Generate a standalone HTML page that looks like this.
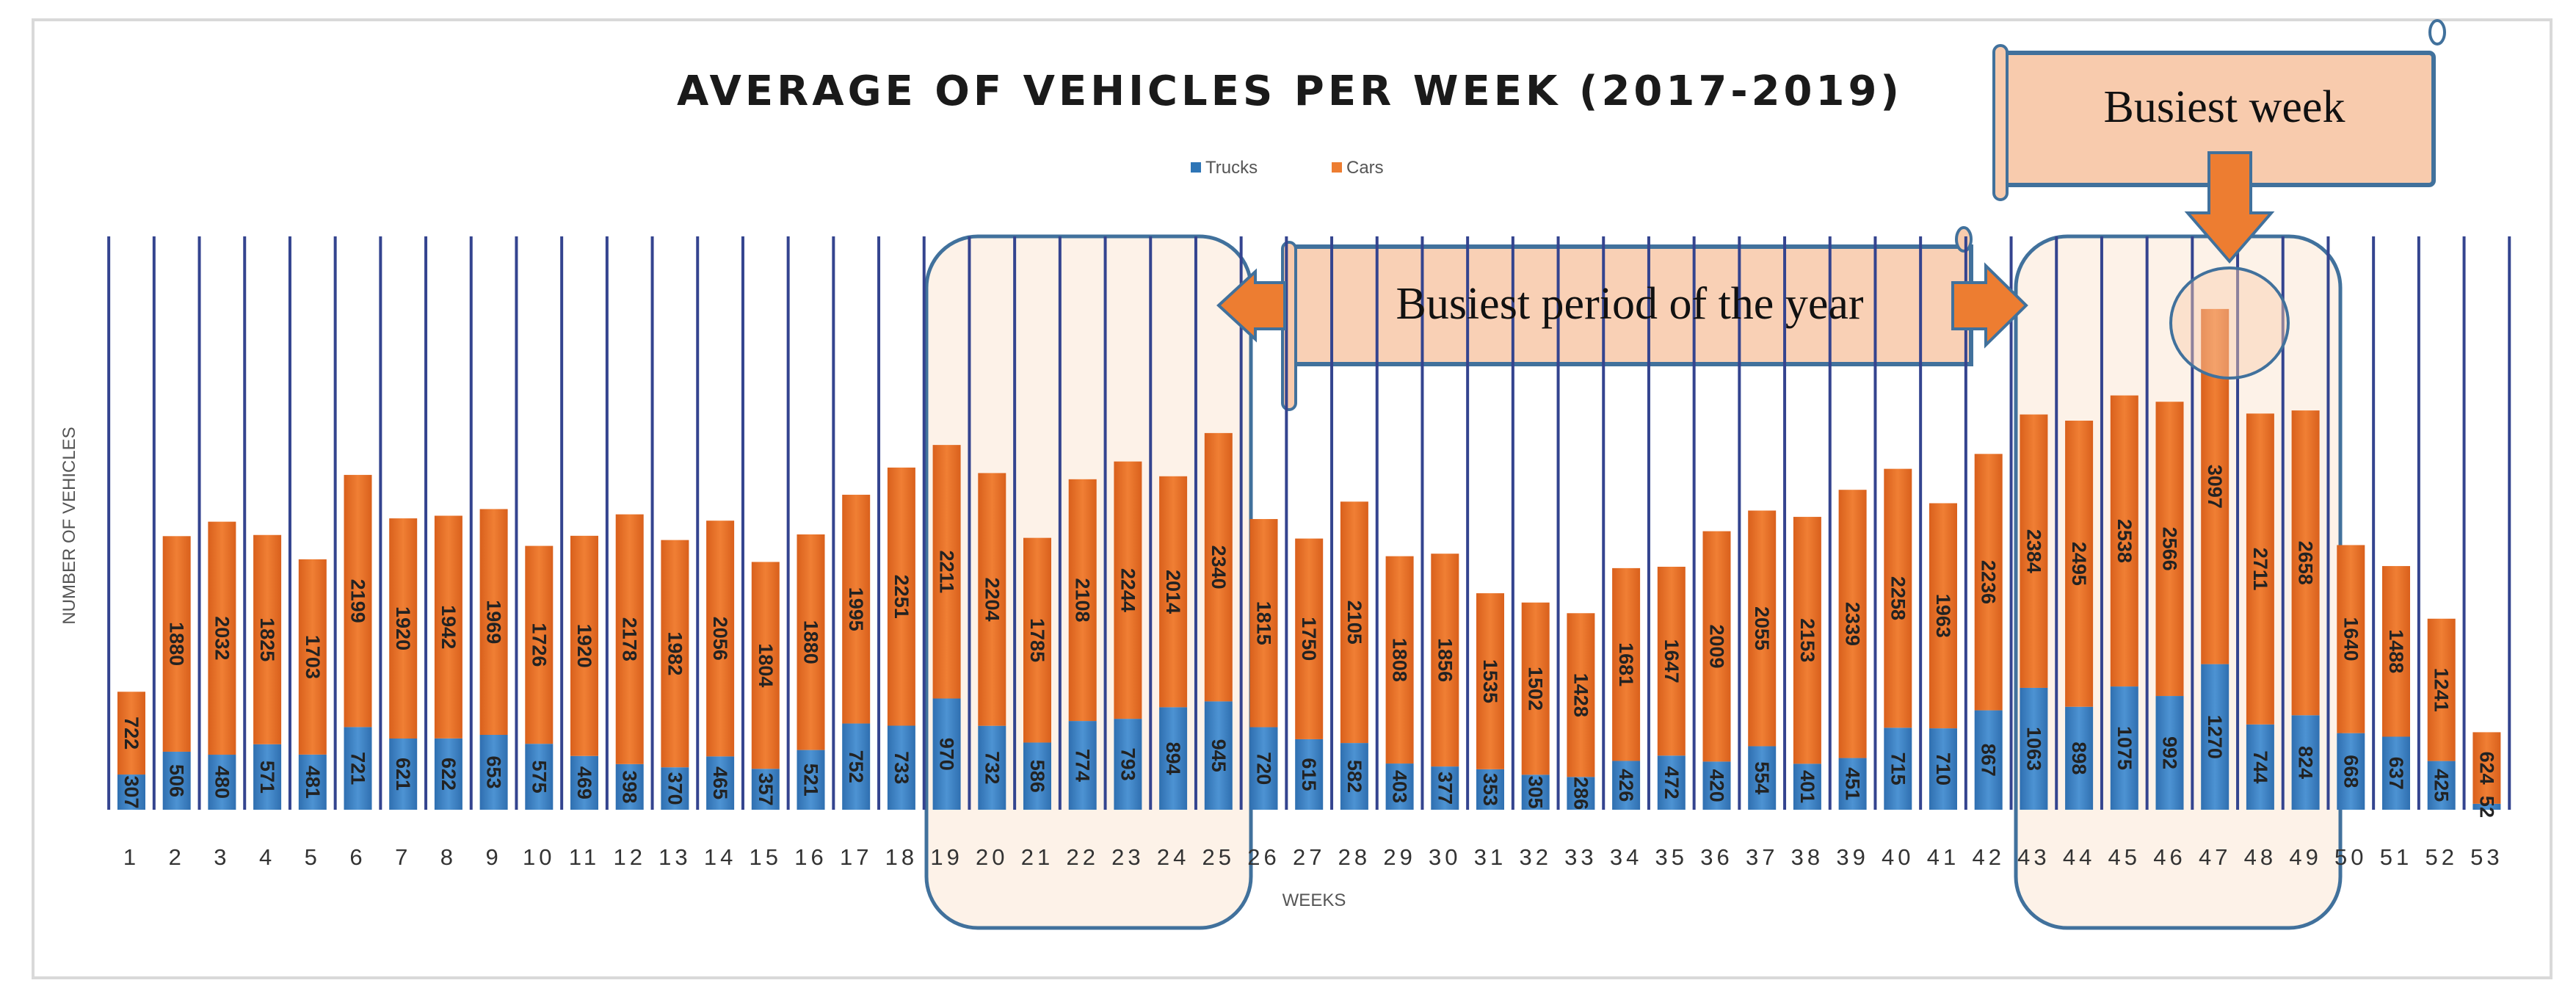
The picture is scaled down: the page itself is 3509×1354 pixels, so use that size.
<!DOCTYPE html>
<html><head><meta charset="utf-8"><style>html,body{margin:0;padding:0;background:#fff}svg{display:block}</style></head>
<body>
<svg id="chart" xmlns="http://www.w3.org/2000/svg" width="3509" height="1354" viewBox="0 0 3509 1354" font-family="Liberation Sans, sans-serif">
<defs>
<linearGradient id="gOr" x1="0" x2="1"><stop offset="0" stop-color="#d9601c"/><stop offset="0.5" stop-color="#f07f34"/><stop offset="1" stop-color="#d9601c"/></linearGradient>
<linearGradient id="gBl" x1="0" x2="1"><stop offset="0" stop-color="#2f6fb0"/><stop offset="0.5" stop-color="#4d93d3"/><stop offset="1" stop-color="#2f6fb0"/></linearGradient>
</defs>
<rect x="45" y="27" width="3430" height="1305" fill="#fff" stroke="#d9d9d9" stroke-width="4"/>
<text x="1757" y="143" text-anchor="middle" font-family="DejaVu Sans, sans-serif" font-size="56" font-weight="bold" letter-spacing="5" fill="#1a1a1a">AVERAGE OF VEHICLES PER WEEK (2017-2019)</text>
<g font-size="24" fill="#555">
<rect x="1622" y="221" width="14" height="14" fill="#2e75b6"/>
<text x="1642" y="236">Trucks</text>
<rect x="1814" y="221" width="14" height="14" fill="#ed7d31"/>
<text x="1834" y="236">Cars</text>
</g>
<rect x="1262" y="322" width="442" height="942" rx="70" fill="#fbe7d6" fill-opacity="0.55" stroke="#41719c" stroke-width="5"/>
<rect x="2746" y="322" width="442" height="942" rx="70" fill="#fbe7d6" fill-opacity="0.55" stroke="#41719c" stroke-width="5"/>
<g>
<rect x="1755" y="336" width="930" height="160" fill="#f8cbad" fill-opacity="0.9" stroke="#41719c" stroke-width="6"/>
<rect x="1747" y="330" width="18" height="228" rx="9" fill="#f8cbad" stroke="#41719c" stroke-width="4"/>
<ellipse cx="2675" cy="326" rx="10" ry="16" fill="#f8cbad" stroke="#41719c" stroke-width="4"/>
</g>
<g id="grid"></g>
<text x="2220" y="434" text-anchor="middle" font-family="Liberation Serif, serif" font-size="62" fill="#111">Busiest period of the year</text>
<g id="bars"></g>
<g id="labels"></g>
<text x="1790" y="1234" text-anchor="middle" font-size="24" fill="#555">WEEKS</text>
<text transform="translate(102,716) rotate(-90)" text-anchor="middle" font-size="24" fill="#555">NUMBER OF VEHICLES</text>
<polygon points="1750,385 1710,385 1710,370 1660,416 1710,462 1710,448 1750,448" fill="#ed7d31" stroke="#41719c" stroke-width="4"/>
<polygon points="2660,385 2705,385 2705,362 2760,416 2705,470 2705,448 2660,448" fill="#ed7d31" stroke="#41719c" stroke-width="4"/>
<g>
<rect x="2725" y="72" width="590" height="180" rx="6" fill="#f8cbad" stroke="#41719c" stroke-width="6"/>
<rect x="2716" y="62" width="18" height="210" rx="9" fill="#f8cbad" stroke="#41719c" stroke-width="4"/>
<ellipse cx="3320" cy="44" rx="10" ry="16" fill="#fff" stroke="#41719c" stroke-width="4"/>
<text x="3030" y="166" text-anchor="middle" font-family="Liberation Serif, serif" font-size="62" fill="#111">Busiest week</text>
</g>
<polygon points="3009,208 3066,208 3066,290 3094,290 3037,356 2980,290 3009,290" fill="#ed7d31" stroke="#41719c" stroke-width="4"/>
<ellipse cx="3037" cy="440" rx="80" ry="75" fill="#f8cbad" fill-opacity="0.45" stroke="#41719c" stroke-width="4"/>
</svg>
<script>
const weeks = Array.from({length:53},(_, i)=>String(i+1));
const trucks = [307,506,480,571,481,721,621,622,653,575,469,398,370,465,357,521,752,733,970,732,586,774,793,894,945,720,615,582,403,377,353,305,286,426,472,420,554,401,451,715,710,867,1063,898,1075,992,1270,744,824,668,637,425,52];
const cars = [722,1880,2032,1825,1703,2199,1920,1942,1969,1726,1920,2178,1982,2056,1804,1880,1995,2251,2211,2204,1785,2108,2244,2014,2340,1815,1750,2105,1808,1856,1535,1502,1428,1681,1647,2009,2055,2153,2339,2258,1963,2236,2384,2495,2538,2566,3097,2711,2658,1640,1488,1241,624];

const NS='http://www.w3.org/2000/svg';
const x0=179, step=61.7, baseY=1103, k=0.1562, bw=38;
const xPos=i=>x0+i*step;
const yPos=v=>baseY-v*k;
function mk(tag,attrs,parent){const e=document.createElementNS(NS,tag);for(const a in attrs)e.setAttribute(a,attrs[a]);parent.appendChild(e);return e;}
const grid=document.getElementById('grid'), bars=document.getElementById('bars'), labels=document.getElementById('labels');
for(let i=0;i<=weeks.length;i++){
  const gx=xPos(i)-step/2;
  const l=mk('line',{x1:gx,x2:gx,y1:322,y2:baseY,stroke:'#34448f','stroke-width':4},grid);
  
  
}
weeks.forEach((w,i)=>{
  const cx=xPos(i);
  const t=trucks[i], c=cars[i];
  const rb=mk('rect',{x:cx-bw/2,y:yPos(t),width:bw,height:t*k,fill:'url(#gBl)'},bars);
  
  
  const ro=mk('rect',{x:cx-bw/2,y:yPos(t+c),width:bw,height:c*k,fill:'url(#gOr)'},bars);
  
  
  const tt=mk('text',{transform:`translate(${cx-9},${(yPos(t)+baseY)/2}) rotate(90)`,'text-anchor':'middle','font-size':27,'font-weight':'bold',fill:'#222'},labels);
  tt.textContent=t;
  
  
  const ct=mk('text',{transform:`translate(${cx-9},${(yPos(t+c)+yPos(t))/2}) rotate(90)`,'text-anchor':'middle','font-size':27,'font-weight':'bold',fill:'#222'},labels);
  ct.textContent=c;
  
  
  const wl=mk('text',{x:cx,y:1178,'text-anchor':'middle','font-size':31,'letter-spacing':5,fill:'#333'},labels);
  wl.textContent=w;
  
  
});
</script>
</body></html>
